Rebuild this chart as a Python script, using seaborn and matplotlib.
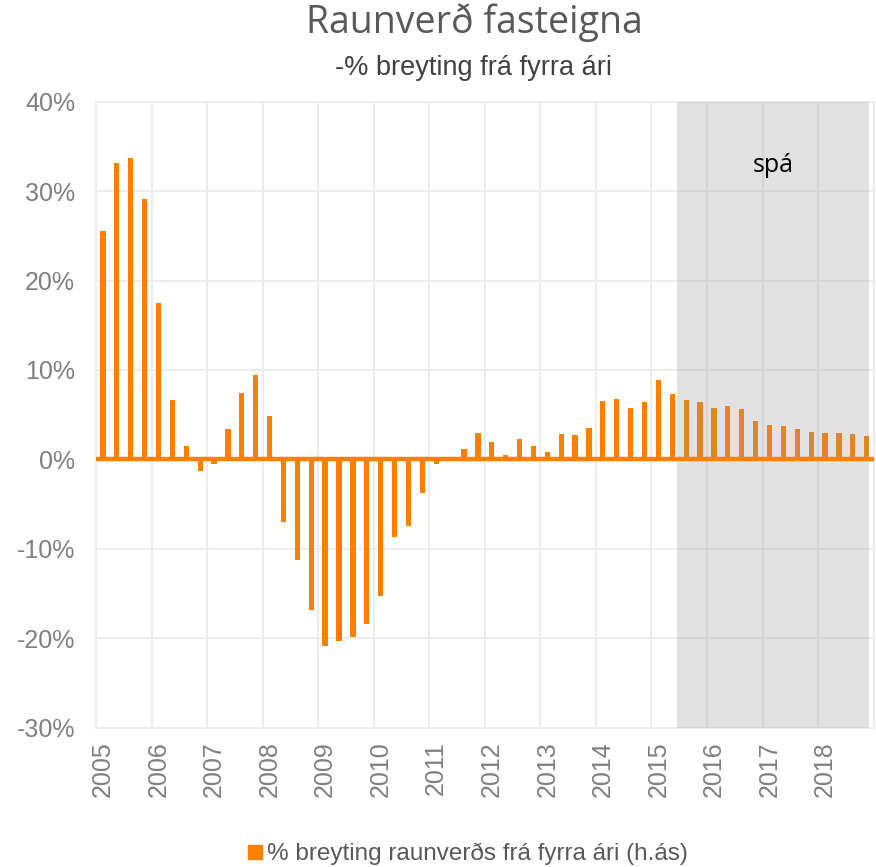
import numpy as np
import pandas as pd
import matplotlib
matplotlib.use('Agg')
import matplotlib.pyplot as plt
import seaborn as sns
from matplotlib.lines import Line2D

# Gögn: ársfjórðungsleg % breyting raunverðs, 2005F1 - 2018F4
ar = list(range(2005, 2019))
fjordungar = [f'{a}F{q}' for a in ar for q in range(1, 5)]
breyting = [
    25.5, 33.2, 33.7, 29.1, 17.5, 6.6, 1.5, -1.3, -0.5, 3.4, 7.4, 9.4, 4.8,
    -7.0, -11.3, -16.9, -20.9, -20.3, -19.9, -18.4, -15.3, -8.7, -7.4, -3.8, -0.5, -0.1,
    1.2, 2.9, 2.0, 0.5, 2.25, 1.55, 0.8, 2.85, 2.7, 3.5,
    6.5, 6.7, 5.7, 6.4, 8.85, 7.3,
    6.6, 6.4, 5.8, 6.0, 5.6, 4.3, 3.9, 3.7, 3.4, 3.1, 3.0, 2.9, 2.8, 2.6,
]
spa_byrjar = '2015F3'   # spátímabil hefst
ar_merki = [str(a) for a in ar]

df = pd.DataFrame({'fjordungur': fjordungar, 'breyting': breyting})

ORANGE = '#FF7F00'
GRID = '#EDEDED'
TXT = '#7F7F7F'

sns.set_style('white')
plt.rcParams['font.family'] = ['Liberation Sans', 'DejaVu Sans']

fig = plt.figure(figsize=(8.76, 8.67), dpi=100)
ax = fig.add_axes([0.1096, 0.1608, 0.8877, 0.7218])

sns.barplot(data=df, x='fjordungur', y='breyting', order=fjordungar,
            color=ORANGE, saturation=1, width=0.38, linewidth=0,
            edgecolor=ORANGE, ax=ax, zorder=3)

# grunnlína
ax.axhline(0, color=ORANGE, lw=3.2, zorder=5)

# spátímabil
i0 = fjordungar.index(spa_byrjar)
ax.axvspan(i0 - 0.65, len(fjordungar) - 0.83, color='#969696', alpha=0.27,
           lw=0, zorder=4)
ax.text(i0 + 6.3, 32.9, 'spá', fontsize=18, color='black', ha='center',
        va='center', family=['Open Sans', 'DejaVu Sans'], zorder=6)

ax.set_xlim(-0.5, len(fjordungar) - 0.5)
ax.set_ylim(-30, 40)
ax.set_yticks(range(-30, 41, 10))
ax.set_yticklabels([f'{v}%' for v in range(-30, 41, 10)])
ax.set_xticks(range(0, len(fjordungar), 4))
ax.set_xticklabels(ar_merki, rotation=90)
ax.set_xticks(np.arange(-0.5, len(fjordungar), 4), minor=True)
ax.tick_params(axis='both', which='both', length=0, labelsize=18,
               labelcolor=TXT)
ax.tick_params(axis='y', pad=15)
ax.tick_params(axis='x', pad=10)
ax.grid(False)
ax.yaxis.grid(True, color=GRID, lw=1.5, zorder=0)
ax.xaxis.grid(True, which='minor', color=GRID, lw=1.5, zorder=0)
ax.set_axisbelow(True)
for s in ax.spines.values():
    s.set_color(GRID)
    s.set_linewidth(1.5)
ax.set_xlabel('')
ax.set_ylabel('')

fig.text(0.541, 0.974, 'Raunverð fasteigna', ha='center', va='center',
         fontsize=27, color='#595959', family=['Open Sans', 'DejaVu Sans'])
fig.text(0.541, 0.921, '-% breyting frá fyrra ári', ha='center',
         va='center', fontsize=19.5, color='#404040')

handle = Line2D([], [], marker='s', color='none', markerfacecolor=ORANGE,
                markeredgecolor=ORANGE, markersize=10)
fig.legend([handle], ['% breyting raunverðs frá fyrra ári (h.ás)'],
           loc='center', bbox_to_anchor=(0.531, 0.015), frameon=False,
           fontsize=17.5, labelcolor='#595959', handletextpad=0.0,
           handlelength=1.0)

fig.savefig('out.png', dpi=100)
